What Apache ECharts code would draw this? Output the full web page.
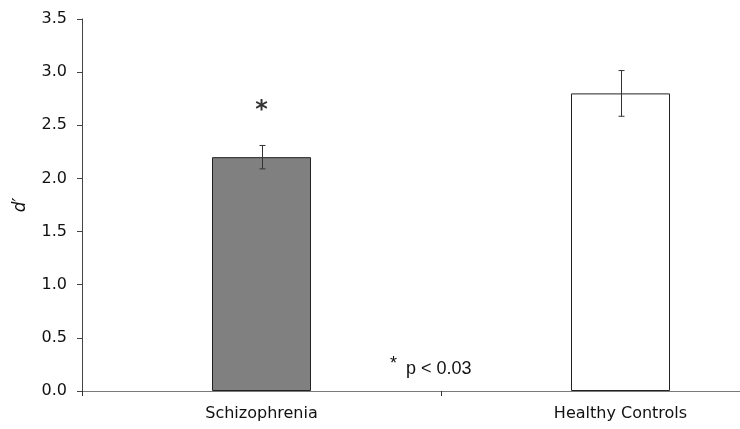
<!DOCTYPE html>
<html>
<head>
<meta charset="utf-8">
<script src="https://cdn.jsdelivr.net/npm/echarts@6/dist/echarts.min.js"></script>
<style>
  html, body { margin: 0; padding: 0; background: #fff; overflow: hidden; }
  /* The category band runs past the right edge of the 740px view */
  #chart { width: 800px; height: 429px; }
</style>
</head>
<body>
<div id="chart"></div>
<script>
// Group means of d' with their standard errors
const categories = ['Schizophrenia', 'Healthy Controls'];
const means = [2.2, 2.8];
const errors = [0.11, 0.215];
const barColors = ['#808080', '#ffffff'];
// Significance marker shown above the first group
const markerLevel = [2.64];
const yTicks = { min: 0, max: 3.5, interval: 0.5 };

const chart = echarts.init(document.getElementById('chart'));
const font = 'DejaVu Sans, Verdana, sans-serif';

chart.setOption({
  animation: false,
  grid: { left: 82, right: 0, top: 19, bottom: 38, containLabel: false },
  xAxis: {
    type: 'category',
    data: categories,
    axisLine: { lineStyle: { color: '#7a7a7a', width: 1 } },
    axisTick: { show: true, length: 5, lineStyle: { color: '#333' } },
    axisLabel: { color: '#111', fontFamily: font, fontSize: 16, margin: 15 }
  },
  yAxis: {
    type: 'value',
    min: yTicks.min,
    max: yTicks.max,
    interval: yTicks.interval,
    name: 'd′',
    nameLocation: 'middle',
    nameGap: 53,
    nameTextStyle: { fontFamily: font, fontSize: 17, fontStyle: 'italic', color: '#111' },
    splitLine: { show: false },
    axisLine: { show: true, lineStyle: { color: '#444', width: 1 } },
    axisTick: { show: true, length: 5, lineStyle: { color: '#444' } },
    axisLabel: {
      color: '#111', fontFamily: font, fontSize: 16, margin: 15,
      formatter: v => v.toFixed(1)
    }
  },
  series: [
    {
      type: 'bar',
      barWidth: 99,
      data: means.map((v, i) => ({
        value: v,
        itemStyle: { color: barColors[i], borderColor: '#222', borderWidth: 1 }
      }))
    },
    {
      type: 'custom',
      z: 5,
      data: means.map((v, i) => [i, v - errors[i], v + errors[i]]),
      renderItem: (params, api) => {
        const lo = api.coord([api.value(0), api.value(1)]);
        const hi = api.coord([api.value(0), api.value(2)]);
        const x = Math.round(lo[0]) + 0.5;
        const cap = 3;
        const style = { stroke: '#333', lineWidth: 1 };
        return {
          type: 'group',
          children: [
            { type: 'line', shape: { x1: x, y1: hi[1], x2: x, y2: lo[1] }, style },
            { type: 'line', shape: { x1: x - cap, y1: hi[1], x2: x + cap, y2: hi[1] }, style },
            { type: 'line', shape: { x1: x - cap, y1: lo[1], x2: x + cap, y2: lo[1] }, style }
          ]
        };
      }
    },
    {
      type: 'scatter',
      symbolSize: 0,
      data: markerLevel.map(v => [0, v]),
      label: {
        show: true, position: 'inside', formatter: '*',
        fontFamily: font, fontSize: 24, fontWeight: 'bold', color: '#000'
      }
    }
  ],
  graphic: [
    {
      type: 'text', left: 390, top: 355,
      style: { text: '*', font: '18px Liberation Sans, Arial, sans-serif', fill: '#111' }
    },
    {
      type: 'text', left: 406, top: 360,
      style: { text: 'p < 0.03', font: '18px Liberation Sans, Arial, sans-serif', fill: '#111' }
    }
  ]
});
</script>
</body>
</html>
